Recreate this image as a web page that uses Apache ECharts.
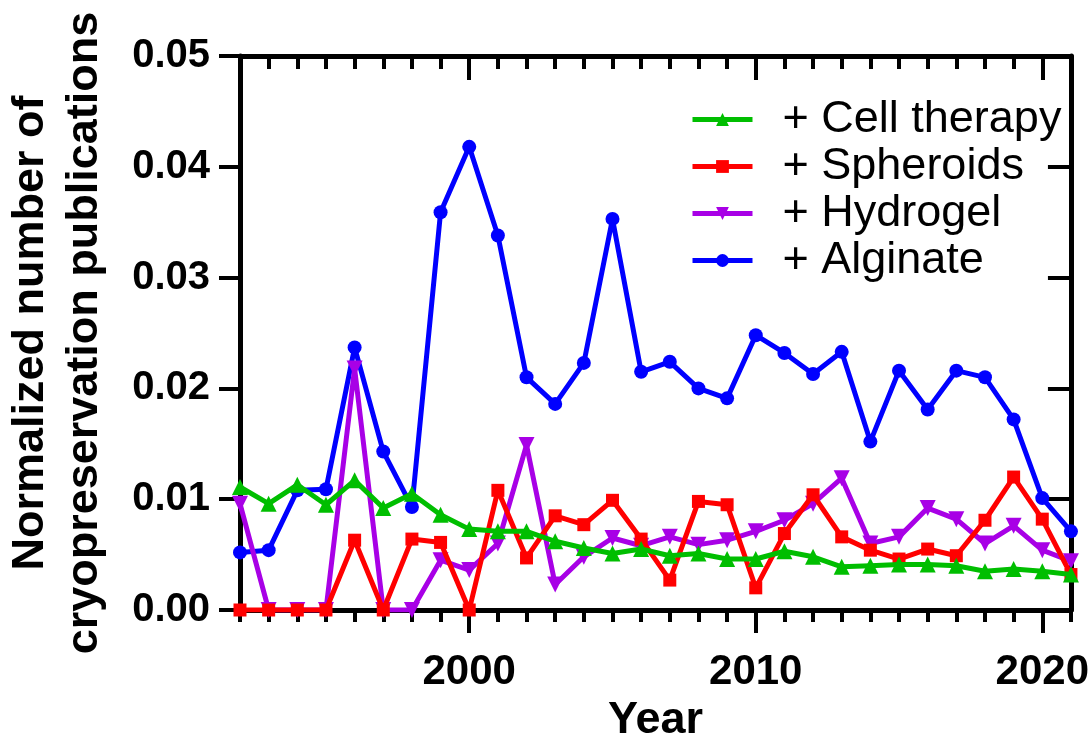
<!DOCTYPE html>
<html>
<head>
<meta charset="utf-8">
<script src="https://cdn.jsdelivr.net/npm/echarts@6/dist/echarts.min.js"></script>
<style>
  html, body { margin: 0; padding: 0; background: #fff; }
  #chart { width: 1092px; height: 751px; }
</style>
</head>
<body>
<div id="chart"></div>
<script>
// Publication years
const years = [1992, 1993, 1994, 1995, 1996, 1997, 1998, 1999, 2000, 2001,
               2002, 2003, 2004, 2005, 2006, 2007, 2008, 2009, 2010, 2011,
               2012, 2013, 2014, 2015, 2016, 2017, 2018, 2019, 2020, 2021];

// Normalized publication counts per search term
const cellTherapy = [0.0111, 0.0096, 0.0113, 0.0095, 0.0117, 0.0092, 0.0105, 0.0086, 0.0073, 0.0071,
                     0.0071, 0.0062, 0.0056, 0.0051, 0.0055, 0.0049, 0.0051, 0.0046, 0.0046, 0.0053,
                     0.0048, 0.0039, 0.0040, 0.0041, 0.0041, 0.0040, 0.0035, 0.0037, 0.0035, 0.0032];
const spheroids   = [0, 0, 0, 0, 0.0063, 0, 0.0064, 0.0061, 0, 0.0108,
                     0.0047, 0.0085, 0.0077, 0.0099, 0.0064, 0.0027, 0.0098, 0.0095, 0.0020, 0.0069,
                     0.0104, 0.0066, 0.0054, 0.0046, 0.0055, 0.0049, 0.0081, 0.0120, 0.0082, 0.0032];
const hydrogel    = [0.0096, 0, 0, 0, 0.0218, 0, 0, 0.0045, 0.0036, 0.0060,
                     0.0149, 0.0023, 0.0048, 0.0065, 0.0058, 0.0066, 0.0059, 0.0063, 0.0071, 0.0081,
                     0.0096, 0.0119, 0.0060, 0.0066, 0.0092, 0.0082, 0.0060, 0.0076, 0.0054, 0.0044];
const alginate    = [0.0052, 0.0054, 0.0108, 0.0109, 0.0237, 0.0143, 0.0093, 0.0359, 0.0418, 0.0338,
                     0.0210, 0.0186, 0.0223, 0.0353, 0.0215, 0.0224, 0.0200, 0.0191, 0.0248, 0.0232,
                     0.0213, 0.0233, 0.0152, 0.0216, 0.0181, 0.0216, 0.0210, 0.0172, 0.0101, 0.0071];

const seriesNames = ['+ Cell therapy', '+ Spheroids', '+ Hydrogel', '+ Alginate'];
const yTitleLines = ['Normalized number of', 'cryopreservation publications'];
const xTitle = 'Year';

const FONT = "'Liberation Sans', Arial, Helvetica, sans-serif";
const BLACK = '#000';
const isMajor = (i, v) => Number(v) % 10 === 0;

const catBase = { type: 'category', data: years, boundaryGap: false };
const line = { show: true, lineStyle: { color: BLACK, width: 5 } };
const tick = (len, inside, interval) => ({
  show: true, inside: inside, length: len, interval: interval,
  lineStyle: { color: BLACK, width: 4 }
});

const chart = echarts.init(document.getElementById('chart'), null, { renderer: 'canvas' });

function mkSeries(name, data, color, symbol, size, z, rotate) {
  return {
    name: name, type: 'line', data: data,
    xAxisIndex: 0, yAxisIndex: 0,
    symbol: symbol, symbolSize: size, symbolRotate: rotate || 0,
    showAllSymbol: true,
    lineStyle: { color: color, width: 5 },
    itemStyle: { color: color },
    z: z
  };
}

chart.setOption({
  animation: false,
  backgroundColor: '#fff',
  grid: { left: 240, right: 20, top: 56, bottom: 141, containLabel: false },
  xAxis: [
    Object.assign({}, catBase, {
      position: 'bottom',
      axisLine: line,
      axisTick: tick(12, false, 0),
      axisLabel: {
        interval: isMajor, margin: 41,
        fontFamily: FONT, fontWeight: 'bold', fontSize: 42, color: BLACK
      },
      name: xTitle, nameLocation: 'middle', nameGap: 88,
      nameTextStyle: { fontFamily: FONT, fontWeight: 'bold', fontSize: 45, color: BLACK }
    }),
    Object.assign({}, catBase, {
      position: 'bottom',
      axisLine: { show: false },
      axisTick: tick(23, false, isMajor),
      axisLabel: { show: false }
    }),
    Object.assign({}, catBase, {
      position: 'top',
      axisLine: line,
      axisTick: tick(13, true, 0),
      axisLabel: { show: false }
    }),
    Object.assign({}, catBase, {
      position: 'top',
      axisLine: { show: false },
      axisTick: tick(24, true, isMajor),
      axisLabel: { show: false }
    })
  ],
  yAxis: [
    {
      type: 'value', position: 'left', min: 0, max: 0.05, interval: 0.01,
      axisLine: line,
      axisTick: tick(21, false),
      splitLine: { show: false },
      axisLabel: {
        margin: 30, formatter: v => v.toFixed(2),
        fontFamily: FONT, fontWeight: 'bold', fontSize: 40, color: BLACK
      }
    },
    {
      type: 'value', position: 'right', min: 0, max: 0.05, interval: 0.01,
      axisLine: line,
      axisTick: tick(23, true),
      splitLine: { show: false },
      axisLabel: { show: false }
    }
  ],
  legend: {
    data: seriesNames,
    orient: 'vertical',
    left: 690, top: 97, padding: 0,
    itemWidth: 60, itemHeight: 16, itemGap: 2,
    lineStyle: { width: 5 },
    textStyle: {
      fontFamily: FONT, fontSize: 45, color: BLACK,
      lineHeight: 45, padding: [0, 0, 0, 25]
    }
  },
  graphic: [
    {
      type: 'text', x: 31, y: 333, rotation: Math.PI / 2,
      style: {
        text: yTitleLines[0], align: 'center', verticalAlign: 'middle',
        font: "bold 45px " + FONT, fill: BLACK
      }
    },
    {
      type: 'text', x: 85, y: 333, rotation: Math.PI / 2,
      style: {
        text: yTitleLines[1], align: 'center', verticalAlign: 'middle',
        font: "bold 45px " + FONT, fill: BLACK
      }
    }
  ],
  series: [
    mkSeries(seriesNames[3], alginate, '#0000FF', 'circle', 14, 2),
    mkSeries(seriesNames[2], hydrogel, '#A800E6', 'triangle', 16, 3, 180),
    mkSeries(seriesNames[1], spheroids, '#FF0000', 'rect', 13, 4),
    mkSeries(seriesNames[0], cellTherapy, '#00BE00', 'triangle', 16, 5)
  ]
});
</script>
</body>
</html>
